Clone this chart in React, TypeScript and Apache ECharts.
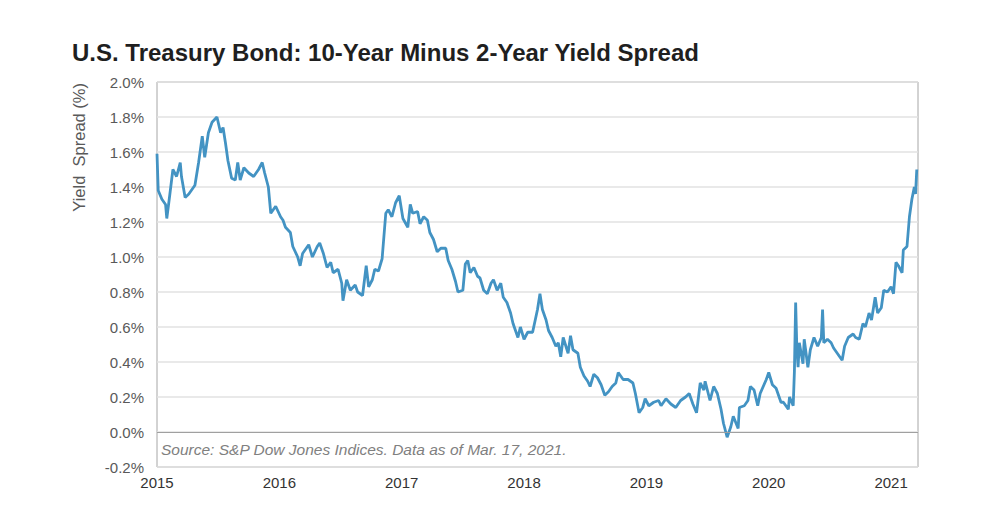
import React, { useEffect, useRef } from "react";
import * as echarts from "echarts";

// Decimal-year positions
const years: number[] = [
  2015.0, 2015.01, 2015.04, 2015.07, 2015.08, 2015.1, 2015.13, 2015.16, 2015.19, 2015.2,
  2015.23, 2015.26, 2015.28, 2015.31, 2015.34, 2015.37, 2015.39, 2015.42, 2015.45, 2015.49,
  2015.52, 2015.54, 2015.56, 2015.58, 2015.61, 2015.64, 2015.66, 2015.68, 2015.71, 2015.75,
  2015.79, 2015.83, 2015.86, 2015.88, 2015.91, 2015.93, 2015.97, 2016.01, 2016.03, 2016.05,
  2016.09, 2016.11, 2016.15, 2016.17, 2016.19, 2016.24, 2016.27, 2016.31, 2016.33, 2016.36,
  2016.39, 2016.42, 2016.44, 2016.48, 2016.51, 2016.52, 2016.55, 2016.58, 2016.62, 2016.64,
  2016.68, 2016.71, 2016.73, 2016.76, 2016.78, 2016.81, 2016.84, 2016.87, 2016.89, 2016.92,
  2016.95, 2016.98, 2017.01, 2017.05, 2017.07, 2017.09, 2017.13, 2017.15, 2017.18, 2017.21,
  2017.23, 2017.26, 2017.29, 2017.32, 2017.36, 2017.38, 2017.41, 2017.44, 2017.46, 2017.5,
  2017.52, 2017.54, 2017.56, 2017.59, 2017.62, 2017.64, 2017.67, 2017.7, 2017.73, 2017.75,
  2017.78, 2017.81, 2017.83, 2017.86, 2017.89, 2017.91, 2017.95, 2017.97, 2018.0, 2018.03,
  2018.07, 2018.11, 2018.13, 2018.15, 2018.18, 2018.2, 2018.23, 2018.26, 2018.28, 2018.3,
  2018.32, 2018.36, 2018.38, 2018.4, 2018.44, 2018.46, 2018.49, 2018.52, 2018.54, 2018.57,
  2018.6, 2018.63, 2018.66, 2018.69, 2018.72, 2018.75, 2018.77, 2018.81, 2018.85, 2018.89,
  2018.91, 2018.94, 2018.97, 2018.99, 2019.02, 2019.06, 2019.1, 2019.12, 2019.16, 2019.2,
  2019.24, 2019.28, 2019.32, 2019.35, 2019.38, 2019.41, 2019.44, 2019.47, 2019.48, 2019.52,
  2019.55, 2019.58, 2019.61, 2019.63, 2019.66, 2019.69, 2019.71, 2019.75, 2019.76, 2019.8,
  2019.83, 2019.85, 2019.88, 2019.91, 2019.93, 2019.98, 2020.0, 2020.03, 2020.06, 2020.1,
  2020.12, 2020.16, 2020.17, 2020.2, 2020.21, 2020.22, 2020.23, 2020.24, 2020.25, 2020.28,
  2020.29, 2020.32, 2020.34, 2020.37, 2020.4, 2020.43, 2020.44, 2020.45, 2020.48, 2020.51,
  2020.53, 2020.56, 2020.6, 2020.62, 2020.65, 2020.69, 2020.71, 2020.74, 2020.77, 2020.79,
  2020.82, 2020.84, 2020.87, 2020.89, 2020.92, 2020.94, 2020.97, 2021.0, 2021.02, 2021.04,
  2021.06, 2021.09, 2021.1, 2021.13, 2021.15, 2021.17, 2021.19, 2021.2, 2021.21,
];

// 10-year minus 2-year spread, percent
const spread: number[] = [
  1.59, 1.38, 1.33, 1.3, 1.22, 1.33, 1.5, 1.46, 1.54, 1.46,
  1.34, 1.36, 1.38, 1.41, 1.54, 1.69, 1.57, 1.71, 1.77, 1.8,
  1.71, 1.74, 1.65, 1.55, 1.45, 1.44, 1.54, 1.44, 1.51, 1.48,
  1.46, 1.5, 1.54, 1.48, 1.4, 1.25, 1.29, 1.23, 1.21, 1.17,
  1.14, 1.06, 1.0, 0.95, 1.02, 1.07, 1.0, 1.06, 1.08, 1.02,
  0.94, 0.97, 0.91, 0.93, 0.85, 0.75, 0.87, 0.81, 0.84, 0.8,
  0.78, 0.95, 0.83, 0.87, 0.93, 0.92, 0.99, 1.25, 1.27, 1.23,
  1.31, 1.35, 1.22, 1.17, 1.3, 1.25, 1.26, 1.19, 1.23, 1.21,
  1.14, 1.1, 1.03, 1.05, 1.05, 0.98, 0.93, 0.86, 0.8, 0.81,
  0.96, 0.98, 0.91, 0.94, 0.89, 0.88, 0.81, 0.79, 0.85, 0.87,
  0.81, 0.85, 0.77, 0.74, 0.68, 0.62, 0.54, 0.6, 0.53, 0.57,
  0.57, 0.7, 0.79, 0.7, 0.64, 0.58, 0.54, 0.49, 0.51, 0.43,
  0.54, 0.45, 0.55, 0.47, 0.45, 0.37, 0.32, 0.29, 0.26, 0.33,
  0.31, 0.27, 0.21, 0.23, 0.26, 0.28, 0.34, 0.3, 0.3, 0.28,
  0.22, 0.11, 0.14, 0.19, 0.15, 0.17, 0.18, 0.15, 0.19, 0.16,
  0.14, 0.18, 0.2, 0.22, 0.16, 0.11, 0.28, 0.24, 0.29, 0.18,
  0.26, 0.22, 0.13, 0.05, -0.03, 0.03, 0.09, 0.02, 0.14, 0.15,
  0.18, 0.26, 0.24, 0.15, 0.22, 0.3, 0.34, 0.27, 0.25, 0.17,
  0.17, 0.13, 0.2, 0.15, 0.35, 0.74, 0.47, 0.37, 0.51, 0.39,
  0.53, 0.37, 0.47, 0.54, 0.49, 0.54, 0.7, 0.51, 0.53, 0.51,
  0.48, 0.45, 0.41, 0.49, 0.54, 0.56, 0.54, 0.53, 0.62, 0.6,
  0.68, 0.64, 0.77, 0.68, 0.71, 0.81, 0.8, 0.83, 0.79, 0.97,
  0.95, 0.91, 1.04, 1.06, 1.23, 1.33, 1.4, 1.36, 1.5,
];

const titleText = "U.S. Treasury Bond: 10-Year Minus 2-Year Yield Spread";
const yAxisTitle = "Yield  Spread (%)";
const sourceText = "Source: S&P Dow Jones Indices. Data as of Mar. 17, 2021.";

const FONT = "Liberation Sans, Arial, sans-serif";

export default function App() {
  const ref = useRef<HTMLDivElement>(null);

  useEffect(() => {
    if (!ref.current) return;
    const chart = echarts.init(ref.current, undefined, { renderer: "svg" });
    const data = years.map((y, i) => [y, spread[i]]);
    chart.setOption({
      animation: false,
      backgroundColor: "#ffffff",
      textStyle: { fontFamily: FONT },
      title: {
        text: titleText,
        left: 59,
        top: 27,
        textStyle: {
          fontFamily: FONT,
          fontSize: 24,
          fontWeight: "bold",
          color: "#1f1f1f",
        },
      },
      grid: {
        left: 149,
        right: 78,
        top: 74,
        bottom: 55,
        show: true,
        borderColor: "#a6a6a6",
        borderWidth: 1,
        backgroundColor: "transparent",
      },
      xAxis: {
        type: "value",
        min: 2015,
        max: 2021.22,
        interval: 1,
        axisLine: { show: false },
        axisTick: { show: false },
        splitLine: { show: false },
        axisLabel: {
          color: "#333333",
          fontSize: 15,
          margin: 8,
          showMaxLabel: false,
          formatter: (v: number) => (Number.isInteger(v) ? String(v) : ""),
        },
      },
      yAxis: {
        type: "value",
        min: -0.2,
        max: 2.0,
        interval: 0.2,
        axisLine: { show: false },
        axisTick: { show: false },
        splitLine: { lineStyle: { color: "#e2e2e2", width: 1.5 } },
        axisLabel: {
          color: "#595959",
          fontSize: 15,
          margin: 13,
          formatter: (v: number) => v.toFixed(1) + "%",
        },
      },
      graphic: [
        {
          type: "text",
          left: 62,
          top: 75,
          rotation: Math.PI / 2,
          style: {
            text: yAxisTitle,
            fill: "#595959",
            fontSize: 16.5,
            fontFamily: FONT,
          },
        },
        {
          type: "text",
          left: 153,
          top: 433,
          style: {
            text: sourceText,
            fill: "#808080",
            fontSize: 15.5,
            fontStyle: "italic",
            fontFamily: FONT,
          },
        },
      ],
      series: [
        {
          type: "line",
          data,
          showSymbol: false,
          symbol: "none",
          lineStyle: { color: "#4393c3", width: 2.8 },
          markLine: {
            silent: true,
            symbol: "none",
            label: { show: false },
            lineStyle: { color: "#a0a0a0", width: 1, type: "solid" },
            data: [{ yAxis: 0 }],
          },
        },
      ],
    });
    return () => chart.dispose();
  }, []);

  return <div ref={ref} style={{ width: 988, height: 514 }} />;
}
